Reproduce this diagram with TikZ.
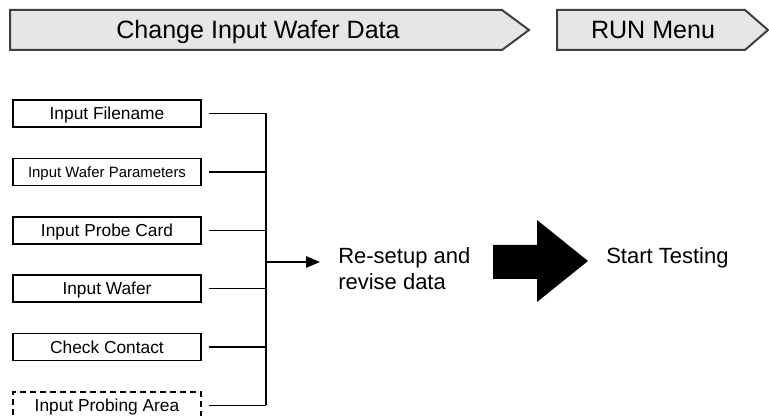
\documentclass[tikz,border=0pt]{standalone}
\usepackage{fontspec}
\setmainfont{Liberation Sans}
\usetikzlibrary{arrows.meta}
\definecolor{hdrfill}{HTML}{E6E6E6}
\definecolor{hdrline}{HTML}{404040}
\begin{document}
\begin{tikzpicture}[x=0.75pt,y=-0.75pt,
  hdr/.style={draw=hdrline, line width=1.5pt, fill=hdrfill, line join=miter},
  hdrtext/.style={inner sep=0pt, text height=13.4pt, text depth=0pt, font=\fontsize{18.8}{22}\selectfont},
  inbox/.style={draw=black, line width=1.1pt, minimum width=141pt, minimum height=20.25pt, inner sep=0pt, text height=9.3pt, text depth=0pt, font=\fontsize{13}{15}\selectfont},
  conn/.style={line width=1.2pt},
  bigtext/.style={inner sep=0pt, font=\fontsize{16.5}{19.5}\selectfont, align=left}
]
\useasboundingbox (0,0) rectangle (769,416);
\fill[white] (0,0) rectangle (769,416);

% header bars
\draw[hdr] (10,10) -- (502,10) -- (529,30) -- (502,50) -- (10,50) -- cycle;
\node[hdrtext] (h1) at (258,30) {Change Input Wafer Data};
\draw[hdr] (557,10) -- (745,10) -- (768,30) -- (745,50) -- (557,50) -- cycle;
\node[hdrtext] (h2) at (653,30) {RUN Menu};

% input boxes
\node[inbox] (b1) at (107,113.5) {Input Filename};
\node[inbox, text height=8pt, font=\fontsize{11.2}{13}\selectfont] (b2) at (107,172) {Input Wafer Parameters};
\node[inbox] (b3) at (107,230.5) {Input Probe Card};
\node[inbox] (b4) at (107,288.5) {Input Wafer};
\node[inbox] (b5) at (107,347) {Check Contact};
\node[inbox, dash pattern=on 4.5pt off 3pt] (b6) at (107,405.5) {Input Probing Area};

% bus
\coordinate (bus) at (266,262);
\foreach \b in {b1,b2,b3,b4,b5,b6}{
  \draw[conn] ([xshift=5.25pt]\b.east) -- (\b.east -| bus);
}
\draw[conn] (b1.east -| bus) -- (b6.east -| bus);

% result text
\node[bigtext, anchor=west] (rs) at (338,269) {Re-setup and\\revise data};
\coordinate (rsin) at (320,262);
\draw[conn, -{Triangle[length=10.5pt,width=8.5pt]}] (bus) -- (rsin);

% big arrow
\fill[black] (493,245) -- (537,245) -- (537,220) -- (588,261) -- (537,302) -- (537,279) -- (493,279) -- cycle;

\node[bigtext, anchor=base west] (st) at (606,264) {Start Testing};
\end{tikzpicture}
\end{document}
